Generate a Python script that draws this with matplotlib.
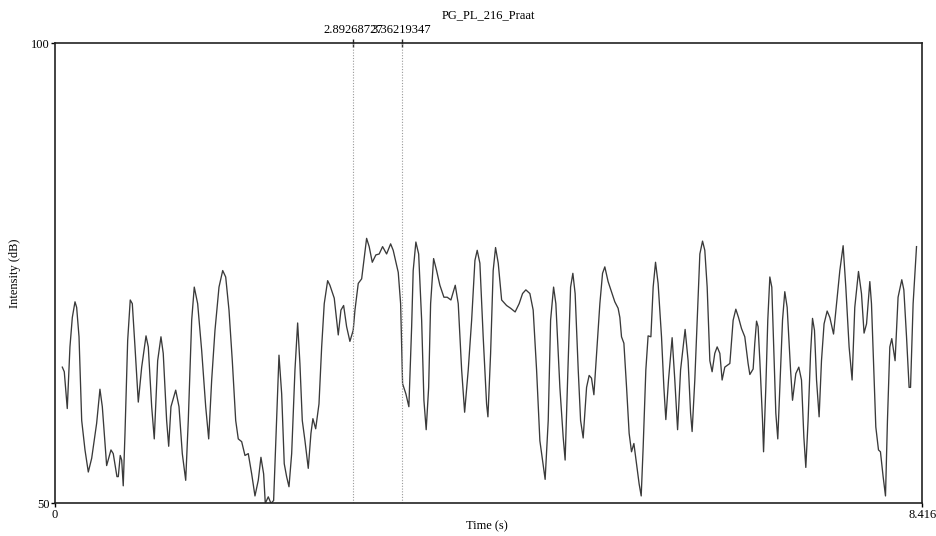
import matplotlib
matplotlib.use("Agg")
import matplotlib.pyplot as plt

plt.rcParams['font.family'] = ['Liberation Serif', 'DejaVu Serif']

title = "PG_PL_216_Praat"
x_label = "Time (s)"
y_label = "Intensity (dB)"
x_range = [0, 8.416]
y_range = [50, 100]
x_ticks = [0, 8.416]
x_tick_labels = ["0", "8.416"]
y_ticks = [50, 100]
y_tick_labels = ["50", "100"]
markers = [2.89268727, 3.36219347]
marker_labels = ["2.89268727", "3.36219347"]

time_s = [
    0.071, 0.090, 0.119, 0.145, 0.168, 0.194, 0.210, 0.233, 0.259, 0.291,
    0.323, 0.356, 0.404, 0.436, 0.459, 0.501, 0.543, 0.565, 0.601, 0.614,
    0.633, 0.647, 0.662, 0.679, 0.705, 0.730, 0.750, 0.776, 0.808, 0.841,
    0.883, 0.905, 0.938, 0.963, 0.996, 1.028, 1.050, 1.083, 1.103, 1.125,
    1.171, 1.203, 1.235, 1.268, 1.293, 1.326, 1.351, 1.384, 1.423, 1.462,
    1.491, 1.520, 1.552, 1.591, 1.627, 1.656, 1.688, 1.720, 1.753, 1.778,
    1.811, 1.843, 1.875, 1.908, 1.940, 1.972, 1.998, 2.024, 2.040, 2.069,
    2.095, 2.121, 2.150, 2.173, 2.199, 2.224, 2.247, 2.270, 2.296, 2.328,
    2.354, 2.376, 2.399, 2.425, 2.457, 2.483, 2.502, 2.529, 2.561, 2.587,
    2.612, 2.645, 2.667, 2.709, 2.748, 2.774, 2.800, 2.829, 2.861, 2.893,
    2.910, 2.942, 2.975, 2.997, 3.023, 3.048, 3.078, 3.113, 3.145, 3.178,
    3.217, 3.256, 3.281, 3.330, 3.353, 3.372, 3.404, 3.433, 3.460, 3.475,
    3.501, 3.528, 3.557, 3.579, 3.601, 3.625, 3.644, 3.673, 3.702, 3.734,
    3.773, 3.805, 3.841, 3.883, 3.912, 3.945, 3.974, 4.009, 4.042, 4.074,
    4.096, 4.122, 4.154, 4.187, 4.200, 4.226, 4.251, 4.274, 4.300, 4.333,
    4.381, 4.420, 4.464, 4.503, 4.536, 4.568, 4.607, 4.639, 4.672, 4.704,
    4.730, 4.755, 4.785, 4.808, 4.837, 4.859, 4.898, 4.930, 4.949, 4.976,
    5.002, 5.024, 5.046, 5.076, 5.099, 5.124, 5.157, 5.182, 5.205, 5.228,
    5.254, 5.286, 5.312, 5.334, 5.366, 5.399, 5.431, 5.463, 5.480, 5.496,
    5.519, 5.545, 5.570, 5.593, 5.616, 5.642, 5.667, 5.687, 5.706, 5.732,
    5.754, 5.781, 5.803, 5.826, 5.851, 5.884, 5.907, 5.926, 5.952, 5.987,
    6.013, 6.040, 6.069, 6.113, 6.142, 6.166, 6.181, 6.207, 6.230, 6.256,
    6.282, 6.304, 6.327, 6.353, 6.375, 6.401, 6.424, 6.450, 6.472, 6.498,
    6.547, 6.579, 6.605, 6.631, 6.660, 6.692, 6.724, 6.741, 6.773, 6.789,
    6.806, 6.821, 6.838, 6.864, 6.874, 6.896, 6.915, 6.935, 6.954, 6.974,
    6.993, 7.012, 7.032, 7.058, 7.080, 7.103, 7.136, 7.155, 7.187, 7.216,
    7.242, 7.265, 7.284, 7.306, 7.330, 7.349, 7.368, 7.388, 7.413, 7.436,
    7.461, 7.491, 7.517, 7.553, 7.582, 7.614, 7.646, 7.672, 7.704, 7.733,
    7.759, 7.795, 7.824, 7.849, 7.873, 7.905, 7.921, 7.944, 7.963, 7.989,
    8.008, 8.034, 8.057, 8.076, 8.099, 8.118, 8.150, 8.179, 8.215, 8.235,
    8.261, 8.286, 8.300, 8.325, 8.358,
]

intensity_db = [
    64.8, 64.3, 60.3, 67.0, 70.2, 71.9, 71.3, 68.1, 59.0, 55.8,
    53.4, 54.9, 58.7, 62.4, 60.5, 54.1, 55.8, 55.4, 52.9, 52.9,
    55.2, 54.7, 51.9, 57.6, 67.7, 72.1, 71.7, 67.0, 61.0, 64.8,
    68.2, 67.0, 60.5, 57.0, 65.5, 68.1, 66.3, 59.0, 56.2, 60.5,
    62.3, 60.5, 55.4, 52.5, 59.0, 69.9, 73.5, 71.7, 66.6, 60.5,
    57.0, 63.4, 68.8, 73.5, 75.3, 74.6, 71.0, 65.5, 59.0, 57.0,
    56.7, 55.2, 55.4, 53.2, 50.8, 52.5, 55.0, 53.2, 50.0, 50.7,
    50.0, 50.3, 59.0, 66.1, 61.9, 54.3, 52.9, 51.8, 55.4, 64.5,
    69.6, 65.2, 59.0, 56.8, 53.8, 57.6, 59.2, 58.1, 60.8, 67.0,
    71.7, 74.2, 73.7, 72.3, 68.3, 71.0, 71.5, 69.2, 67.6, 68.8,
    71.0, 73.9, 74.4, 76.4, 78.8, 77.9, 76.2, 77.0, 77.1, 77.9,
    77.1, 78.2, 77.5, 75.1, 71.7, 63.0, 61.9, 60.5, 69.2, 75.3,
    78.4, 77.1, 69.9, 61.2, 58.0, 62.6, 71.7, 76.6, 75.3, 73.7,
    72.4, 72.4, 72.1, 73.7, 71.7, 64.5, 59.9, 64.5, 69.9, 76.4,
    77.5, 76.1, 68.1, 60.8, 59.4, 66.3, 75.3, 77.8, 76.1, 72.1,
    71.5, 71.2, 70.8, 71.7, 72.8, 73.2, 72.8, 71.0, 64.5, 56.8,
    54.7, 52.6, 59.0, 69.9, 73.5, 71.7, 62.6, 57.2, 54.7, 64.5,
    73.5, 75.0, 72.8, 64.5, 59.0, 57.1, 62.6, 63.9, 63.6, 61.8,
    66.3, 71.7, 75.0, 75.7, 74.1, 73.0, 71.9, 71.2, 70.2, 68.1,
    67.4, 62.6, 57.6, 55.6, 56.5, 54.3, 52.1, 50.8, 56.1, 64.5,
    68.2, 68.1, 73.5, 76.2, 73.9, 68.1, 62.6, 59.1, 63.4, 68.0,
    63.4, 58.0, 64.5, 68.9, 65.5, 59.8, 57.8, 63.4, 69.9, 77.1,
    78.5, 77.5, 73.5, 65.5, 64.3, 66.3, 67.0, 66.3, 63.4, 64.8,
    65.2, 69.9, 71.1, 70.2, 69.0, 68.1, 65.2, 64.0, 64.6, 67.4,
    69.8, 69.2, 65.5, 59.0, 55.6, 62.6, 69.9, 74.6, 73.5, 66.3,
    59.8, 57.0, 62.6, 69.9, 73.0, 71.3, 64.5, 61.2, 64.1, 64.8,
    63.4, 57.2, 53.9, 59.0, 66.3, 70.1, 68.8, 63.4, 59.4, 65.5,
    69.5, 70.9, 70.2, 68.4, 71.7, 75.3, 78.0, 73.5, 67.0, 63.4,
    71.3, 75.2, 72.8, 68.5, 69.5, 74.1, 71.7, 64.5, 58.3, 55.8,
    55.6, 52.9, 50.8, 59.0, 67.0, 67.9, 65.5, 72.4, 74.3, 73.2,
    68.1, 62.6, 62.6, 71.7, 77.9,
]

FS = 9

fig = plt.figure(figsize=(9.37, 5.36), dpi=100)
ax = fig.add_axes([55 / 937, 1 - 503.3 / 536, (922.5 - 55) / 937, (503.3 - 43.3) / 536])

ax.plot(time_s, intensity_db, color='#3a3a3a', lw=0.95, solid_joinstyle='round')

for m in markers:
    ax.axvline(m, color='#9a9a9a', lw=0.8, ls=(0, (1, 1.5)))

ax.set_xlim(*x_range)
ax.set_ylim(*y_range)
ax.set_xticks(x_ticks)
ax.set_xticklabels(x_tick_labels)
ax.set_yticks(y_ticks)
ax.set_yticklabels(y_tick_labels)
ax.tick_params(axis='both', direction='out', length=3, width=1, labelsize=FS,
               pad=1, color='black')

for s in ax.spines.values():
    s.set_linewidth(1.2)
    s.set_color('#222222')

sec = ax.secondary_xaxis('top')
sec.set_xticks(markers)
sec.set_xticklabels(marker_labels)
sec.tick_params(direction='inout', length=6, width=1, labelsize=FS, pad=2, color='#222222')
sec.spines['top'].set_visible(False)

ax.set_xlabel(x_label, fontsize=FS)
ax.xaxis.set_label_coords(0.498, -0.036)
ax.set_ylabel(y_label, fontsize=FS, va='center')
ax.yaxis.set_label_coords(-0.046, 0.5)
fig.text(0.521, 0.972, title, ha='center', va='center', fontsize=FS)

fig.savefig("out.png", dpi=100)
